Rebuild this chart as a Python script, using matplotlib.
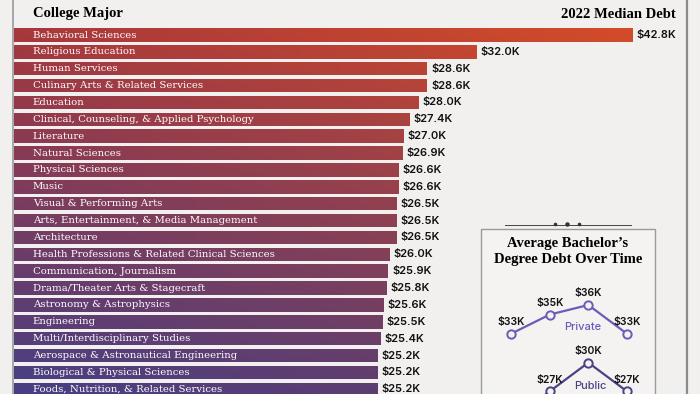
import numpy as np
import matplotlib
matplotlib.use("Agg")
import matplotlib.pyplot as plt
from matplotlib.patches import Rectangle

# bar chart data
majors = [
    "Behavioral Sciences", "Religious Education", "Human Services",
    "Culinary Arts & Related Services", "Education",
    "Clinical, Counseling, & Applied Psychology", "Literature",
    "Natural Sciences", "Physical Sciences", "Music",
    "Visual & Performing Arts", "Arts, Entertainment, & Media Management",
    "Architecture", "Health Professions & Related Clinical Sciences",
    "Communication, Journalism", "Drama/Theater Arts & Stagecraft",
    "Astronomy & Astrophysics", "Engineering", "Multi/Interdisciplinary Studies",
    "Aerospace & Astronautical Engineering", "Biological & Physical Sciences",
    "Foods, Nutrition, & Related Services",
]
debt = [42.8, 32.0, 28.6, 28.6, 28.0, 27.4, 27.0, 26.9, 26.6, 26.6, 26.5,
        26.5, 26.5, 26.0, 25.9, 25.8, 25.6, 25.5, 25.4, 25.2, 25.2, 25.2]

# inset line chart data (first public point is below the visible crop)
periods = [0, 1, 2, 3]
private = [33, 35, 36, 33]
public = [24, 27, 30, 27]

BG = "#f1f0ee"
W, H = 700, 394

fig = plt.figure(figsize=(7, 3.94), dpi=100, facecolor=BG)

# main axes: x=0 at px 14, 14.44 px per $1K; rows every 16.87 px from y=35
ax = fig.add_axes([14 / W, 0, 673 / W, 1])
ax.set_facecolor("none")
ax.axis("off")

n = len(majors)
ypos = np.arange(n)
bars = ax.barh(ypos, debt, height=0.8, color="none")

# 2D gradient (red-orange top right -> purple bottom left)
tl = np.array([168, 56, 60]) / 255
tr = np.array([212, 76, 40]) / 255
bl = np.array([70, 63, 133]) / 255
br = np.array([107, 60, 101]) / 255
tx = np.linspace(0, 1, 200)[None, :, None]
ty = np.linspace(0, 1, 120)[:, None, None]
grad = (1 - ty) * ((1 - tx) * tl + tx * tr) + ty * ((1 - tx) * bl + tx * br)
xmax = max(debt)
for b in bars:
    im = ax.imshow(grad, extent=(0, xmax, n - 0.5, -0.5), origin="upper",
                   aspect="auto", interpolation="bilinear")
    im.set_clip_path(b)
ax.set_xlim(0, 673 / 14.44)
ax.set_ylim((H - 35) / 16.87, -35 / 16.87)

for y, name, v in zip(ypos, majors, debt):
    ax.text(1.3, y, name, color="white", fontsize=7.3, family="DejaVu Serif",
            va="center", ha="left")
    ax.text(v + 0.28, y, f"${v:.1f}K", color="#111111", fontsize=8,
            family="Inter", weight="semibold", va="center", ha="left")

fig.text(33 / W, 1 - 13 / H, "College Major", fontsize=10.5, weight="bold",
         family="Liberation Serif", va="center", ha="left")
fig.text(676 / W, 1 - 14 / H, "2022 Median Debt", fontsize=10.5, weight="bold",
         family="Liberation Serif", va="center", ha="right")

# vertical frame lines
fig.add_artist(plt.Line2D([13 / W, 13 / W], [0, 1], color="#9a9a9a", lw=1.2))
fig.add_artist(plt.Line2D([687 / W, 687 / W], [0, 1], color="#8a8a8a", lw=1.6))

# inset box (behind the inset axes)
fig.add_artist(Rectangle((481 / W, -0.01), 174 / W, 1.01 - 229 / H, transform=fig.transFigure,
                         fc="#f4f3f1", ec="#9a9a9a", lw=1.0, zorder=-1))
fig.add_artist(plt.Line2D([505 / W, 631 / W], [1 - 225 / H] * 2, color="#444444", lw=0.7))
for cx in [555, 567, 579]:
    fig.add_artist(plt.Line2D([cx / W], [1 - 224 / H], marker="o", ms=2.2 if cx == 567 else 1.6,
                              color="#333333", lw=0))
fig.text(568 / W, 1 - 243 / H, "Average Bachelor\u2019s", fontsize=10.5, weight="bold",
         family="Liberation Serif", ha="center", va="center")
fig.text(568 / W, 1 - 260 / H, "Degree Debt Over Time", fontsize=10.5, weight="bold",
         family="Liberation Serif", ha="center", va="center")

# inset line axes: x 0..3 -> px 511..627 ; y 36 -> px 305, 9.6 px per $1K
ix0, ix1 = 511, 627
iy_top, iy_bot = 270, 394
lax = fig.add_axes([ix0 / W, 0, (ix1 - ix0) / W, 1 - iy_top / H])
lax.set_facecolor("none")
lax.axis("off")
lax.set_xlim(0, 3)
v_top = 36 + (305 - iy_top) / 9.6
v_bot = 36 - (iy_bot - 305) / 9.6
lax.set_ylim(v_bot, v_top)

for vals, col, lab, lx, ly in [(private, "#6a5cb8", "Private", 1.85, 33.7),
                               (public, "#4d4186", "Public", 2.05, 27.6)]:
    lax.plot(periods, vals, color=col, lw=1.6, marker="o", ms=6, mfc="#f4f3f1",
             mec=col, mew=1.4, clip_on=False)
    for x, v in zip(periods, vals):
        lax.text(x, v + 1.2, f"${v}K", fontsize=7.5, family="Inter", weight="semibold",
                 color="#111111", ha="center", va="center")
    lax.text(lx, ly, lab, fontsize=8, family="Inter", weight="medium", color=col,
             ha="center", va="center")

fig.savefig("out.png", dpi=100, facecolor=BG)
